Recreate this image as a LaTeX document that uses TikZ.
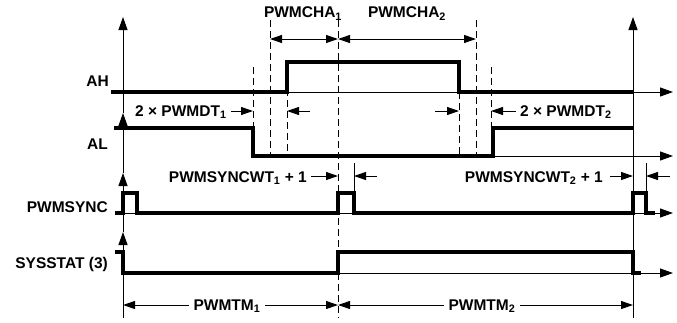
\documentclass[tikz,border=0pt]{standalone}
\usepackage{fontspec}
\setmainfont{Liberation Sans}
\usetikzlibrary{arrows.meta}
\begin{document}
\begin{tikzpicture}[x=1pt,y=-1pt,
  sig/.style={line width=3.1pt, line join=miter, line cap=butt},
  thinl/.style={line width=1pt},
  ax/.style={line width=1pt, -{Triangle[length=13pt,width=9pt]}},
  dsh/.style={line width=1pt, dash pattern=on 7pt off 4pt},
  dimb/.style={line width=1pt, {Triangle[length=12pt,width=8pt]}-{Triangle[length=12pt,width=8pt]}},
  dimr/.style={line width=1pt, -{Triangle[length=12pt,width=8pt]}},
  lbl/.style={font=\fontsize{15.5}{18}\selectfont\bfseries, inner sep=0pt}]
\useasboundingbox (0,0) rectangle (677,322);
% key coordinates
\coordinate (L0) at (123,318); \coordinate (LSY) at (123,232);
\coordinate (LPS) at (123,173); \coordinate (LAL) at (123,113);
\coordinate (LAH) at (123,17);
\coordinate (R0) at (633,318); \coordinate (RT) at (633,17);
% left axis with arrowheads
\draw[ax] (L0) -- (LSY);
\draw[ax] (LSY) -- (LPS);
\draw[ax] (LPS) -- (LAL);
\draw[ax] (LAL) -- (LAH);
% right axis
\draw[ax] (R0) -- (RT);
% horizontal axes
\coordinate (ahs) at (111,92); \coordinate (ahe) at (673,92);
\coordinate (als) at (253,156); \coordinate (ale) at (673,156);
\coordinate (pss) at (123,213); \coordinate (pse) at (673,213);
\coordinate (sss) at (123,273); \coordinate (sse) at (673,273);
\draw[ax] (ahs) -- (ahe);
\draw[ax] (als) -- (ale);
\draw[ax] (pss) -- (pse);
\draw[ax] (sss) -- (sse);
% signals
\draw[sig] (ahs) -- (287,92) -- (287,62) -- (459,62) -- (459,92) -- (633,92);
\draw[sig] (114,128) -- (253,128) -- (253,156) -- (493,156) -- (493,128) -- (633,128);
\draw[sig] (115,213) -- (123,213) -- (123,193) -- (137,193) -- (137,213) -- (338,213)
  -- (338,193) -- (354,193) -- (354,213) -- (633,213) -- (633,193) -- (646,193) -- (646,213) -- (655,213);
\draw[sig] (115,252) -- (123,252) -- (123,273) -- (338,273) -- (338,252) -- (633,252) -- (633,273) -- (641,273);
% dashed reference lines
\draw[dsh] (253,67) -- (253,156);
\draw[dsh] (270,20) -- (270,156);
\draw[dsh] (287,67) -- (287,156);
\draw[dsh] (338,20) -- (338,318);
\draw[dsh] (459,92) -- (459,156);
\draw[dsh] (476,20) -- (476,156);
\draw[dsh] (491,67) -- (491,156);
% thin reference lines
\draw[thinl] (354,163) -- (354,193);
\draw[thinl] (646,163) -- (646,193);
% PWMCHA dimensions
\coordinate (c1) at (270,39); \coordinate (c2) at (338,39); \coordinate (c3) at (476,39);
\draw[dimb] (c1) -- (c2);
\draw[dimb] (c2) -- (c3);
\node[lbl, anchor=base] (cha1) at (303,17.5) {PWMCHA\textsubscript{1}};
\node[lbl, anchor=base] (cha2) at (407,17.5) {PWMCHA\textsubscript{2}};
% dead time
\node[lbl, anchor=base west] (dt1) at (135,116) {2 × PWMDT\textsubscript{1}};
\draw[dimr] (231,111) -- (253,111);
\draw[dimr] (310,111) -- (287,111);
\draw[dimr] (435,111) -- (459,111);
\draw[dimr] (516,111) -- (491,111);
\node[lbl, anchor=base west] (dt2) at (520,116) {2 × PWMDT\textsubscript{2}};
% sync width
\node[lbl, anchor=base east] (sw1) at (307,182) {PWMSYNCWT\textsubscript{1} + 1};
\draw[dimr] (311,176) -- (338,176);
\draw[dimr] (377,176) -- (354,176);
\node[lbl, anchor=base east] (sw2) at (603,182) {PWMSYNCWT\textsubscript{2} + 1};
\draw[dimr] (610,176) -- (633,176);
\draw[dimr] (670,176) -- (646,176);
% period
\draw[dimb] (123,305) -- (338,305);
\draw[dimb] (338,305) -- (633,305);
\node[lbl, anchor=base, fill=white, inner xsep=5pt, inner ysep=1pt] (tm1) at (227,310) {PWMTM\textsubscript{1}};
\node[lbl, anchor=base, fill=white, inner xsep=5pt, inner ysep=1pt] (tm2) at (482,310) {PWMTM\textsubscript{2}};
% signal labels
\node[lbl, anchor=base east] (lah) at (109,86) {AH};
\node[lbl, anchor=base east] (lal) at (108,149) {AL};
\node[lbl, anchor=base east] (lps) at (108,212) {PWMSYNC};
\node[lbl, anchor=base east] (lss) at (108,268) {SYSSTAT (3)};
\end{tikzpicture}
\end{document}
